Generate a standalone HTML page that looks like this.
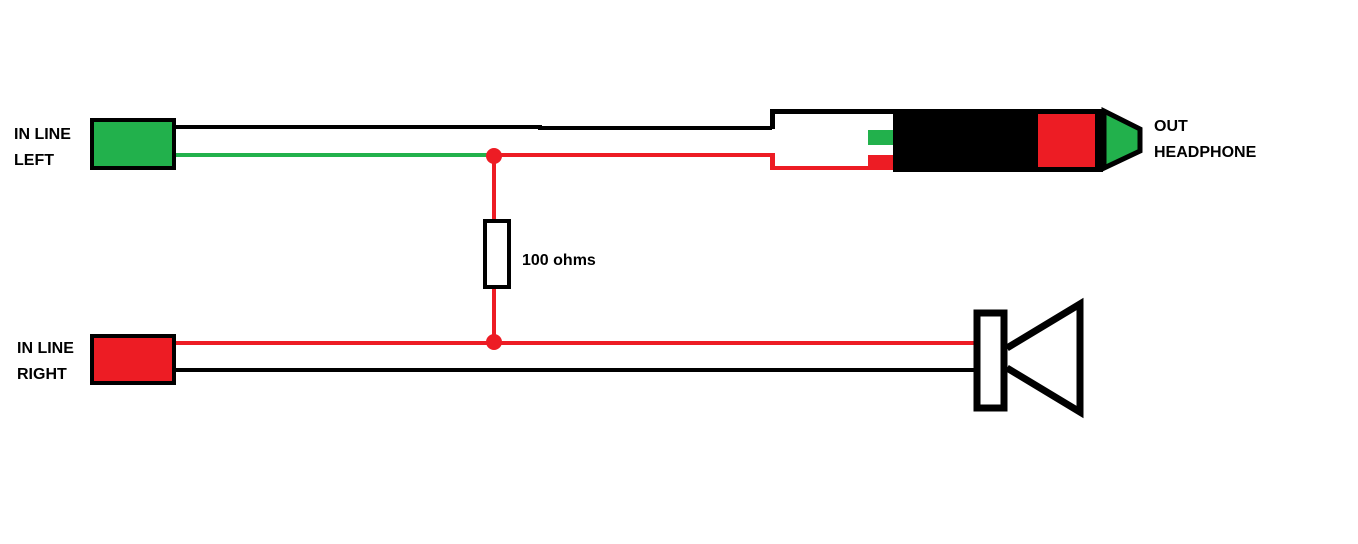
<!DOCTYPE html>
<html><head><meta charset="utf-8"><style>
html,body{margin:0;padding:0;background:#fff;width:1358px;height:544px;overflow:hidden}
text{font-family:"Liberation Sans",sans-serif;font-weight:bold;font-size:16px;fill:#000}
</style></head><body>
<svg width="1358" height="544" viewBox="0 0 1358 544" xmlns="http://www.w3.org/2000/svg">
<!-- wires -->
<polyline points="175,127 540,127 540,128 772,128" fill="none" stroke="#000" stroke-width="4"/>
<line x1="175" y1="155" x2="494" y2="155" stroke="#22b14c" stroke-width="4"/>
<polyline points="494,155 772,155 772,168 895,168" fill="none" stroke="#ed1c24" stroke-width="4"/>
<line x1="494" y1="155" x2="494" y2="343" stroke="#ed1c24" stroke-width="4"/>
<line x1="175" y1="343" x2="975" y2="343" stroke="#ed1c24" stroke-width="4"/>
<line x1="175" y1="370" x2="975" y2="370" stroke="#000" stroke-width="4"/>
<circle cx="494" cy="156" r="8" fill="#ed1c24"/>
<circle cx="494" cy="342" r="8" fill="#ed1c24"/>
<!-- resistor -->
<rect x="485" y="221" width="24" height="66" fill="#fff" stroke="#000" stroke-width="4"/>
<!-- input boxes -->
<rect x="92" y="120" width="82" height="48" fill="#22b14c" stroke="#000" stroke-width="4"/>
<rect x="92" y="336" width="82" height="47" fill="#ed1c24" stroke="#000" stroke-width="4"/>
<!-- jack -->
<rect x="770" y="109" width="125" height="5" fill="#000"/>
<rect x="770" y="109" width="5" height="20" fill="#000"/>
<rect x="770" y="153" width="5" height="17" fill="#ed1c24"/>
<rect x="775" y="114" width="93" height="52" fill="#fff"/>
<rect x="868" y="114" width="27" height="16" fill="#fff"/>
<rect x="868" y="130" width="27" height="15" fill="#22b14c"/>
<rect x="868" y="145" width="27" height="10" fill="#fff"/>
<rect x="868" y="155" width="27" height="12" fill="#ed1c24"/>
<rect x="893" y="109" width="210" height="63" fill="#000"/>
<rect x="1038" y="114" width="57" height="53" fill="#ed1c24"/>
<polygon points="1104,111 1140,129 1140,151 1104,168" fill="#22b14c" stroke="#000" stroke-width="5" stroke-linejoin="miter"/>
<!-- speaker -->
<rect x="977" y="313" width="27" height="95" fill="#fff" stroke="#000" stroke-width="7"/>
<polyline points="1007,348 1080,304 1080,412 1007,368" fill="none" stroke="#000" stroke-width="7"/>
<!-- labels -->
<text x="14" y="139">IN LINE</text>
<text x="14" y="165">LEFT</text>
<text x="17" y="353">IN LINE</text>
<text x="17" y="379">RIGHT</text>
<text x="1154" y="131">OUT</text>
<text x="1154" y="157">HEADPHONE</text>
<text x="522" y="265">100 ohms</text>
</svg>
</body></html>
